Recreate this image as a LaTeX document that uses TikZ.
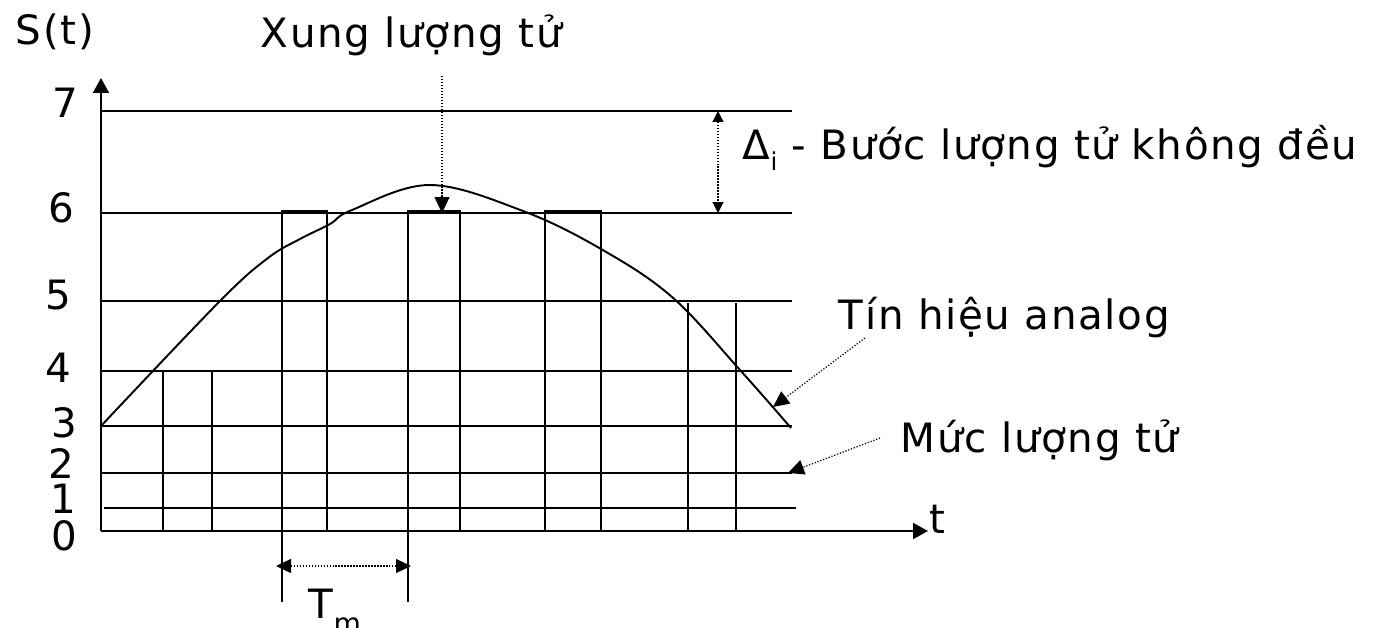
\documentclass[tikz,border=0pt]{standalone}
\usepackage{fontspec}
\setmainfont{DejaVu Sans}[LetterSpace=4]
\usetikzlibrary{arrows.meta}

\begin{document}
\begin{tikzpicture}[x=0.02cm, y=-0.02cm, line width=1.1pt,
  every node/.style={inner sep=0pt, font=\fontsize{23}{27}\selectfont},
  axis/.style={-{Triangle[length=0.3cm, width=0.32cm]}},
  pointer/.style={densely dotted, line width=0.7pt, -{Triangle[length=0.32cm, width=0.3cm]}},
  span/.style={densely dotted, line width=0.7pt, {Triangle[length=0.3cm, width=0.28cm]}-{Triangle[length=0.3cm, width=0.28cm]}},
  gap/.style={densely dotted, line width=0.7pt, {Triangle[length=0.22cm, width=0.22cm]}-{Triangle[length=0.22cm, width=0.22cm]}}]
	\useasboundingbox (0,0) rectangle (1376,628);

	\coordinate (O) at (101,531);
	\coordinate (ytop) at (101,78);
	\coordinate (xend) at (928,531);

	\foreach \y in {111, 213, 301, 371, 426, 473}
		\draw (101,\y) -- (792,\y);
	\draw (104,508) -- (796,508);

	\foreach \a/\b/\top in {163/212/371, 282/327/211, 408/460/211, 545/601/211}
		\draw (\a,531) -- (\a,\top) -- (\b,\top) -- (\b,531);
	\draw (688,531) -- (688,303) (736,531) -- (736,303);
	\draw (282,531) -- (282,602) (408,531) -- (408,602);

	\draw[axis] (O) -- (ytop);
	\draw[axis] (O) -- (xend);

	\draw plot[smooth, tension=0.6] coordinates {(101,426) (220,301) (268,258) (300,239) (330,224) (352,210) (430,185) (523,211) (601,249) (672,297) (740,370) (791,428)};

	\foreach \lv/\y/\x in {7/118/65, 6/223/61, 5/310/58, 4/382/58, 3/437/64, 2/478/61, 1/513/63, 0/550/64}
		\node[anchor=base] (lab\lv) at (\x,\y) {\lv};

	\node[anchor=base west] (sig) at (15,45) {S(t)};
	\node[anchor=base west] (tlab) at (929,533) {t};
	\node[anchor=base west] (xung) at (260,48) {Xung lượng tử};
	\node[anchor=base west] (delta) at (742,160) {Δ\raisebox{-6pt}{\fontsize{14}{14}\selectfont i} - Bước lượng tử không đều};
	\node[anchor=base west] (tin) at (838,329) {Tín hiệu analog};
	\node[anchor=base west] (muc) at (900,452) {Mức lượng tử};
	\node[anchor=base west] (tm) at (308,618) {T\raisebox{-9pt}{\fontsize{16}{16}\selectfont m}};

	\coordinate (xungfrom) at (442,76);
	\coordinate (xungto) at (442,213);
	\coordinate (dtop) at (718,111);
	\coordinate (dbot) at (718,213);
	\coordinate (tinfrom) at (865,338);
	\coordinate (tinto) at (773,407);
	\coordinate (mucfrom) at (880,438);
	\coordinate (mucto) at (788,473);
	\coordinate (tmL) at (276,566);
	\coordinate (tmR) at (411,566);

	\draw[pointer] (xungfrom) -- (xungto);
	\draw[gap] (dtop) -- (dbot);
	\draw[pointer] (tinfrom) -- (tinto);
	\draw[pointer] (mucfrom) -- (mucto);
	\draw[span] (tmL) -- (tmR);
\end{tikzpicture}
\end{document}
